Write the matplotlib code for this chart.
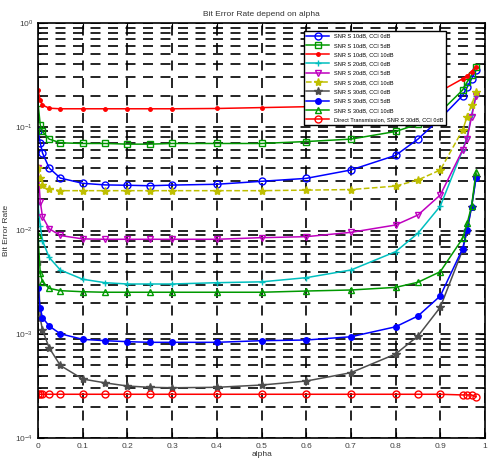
import matplotlib
matplotlib.use("Agg")
import matplotlib.pyplot as plt
from matplotlib.ticker import LogLocator, NullFormatter

plt.rcParams['font.family'] = ['Liberation Sans', 'DejaVu Sans']

# valeurs de alpha
alpha = [0.0, 0.005, 0.01, 0.025, 0.05, 0.1, 0.15, 0.2, 0.25, 0.3, 0.4,
         0.5, 0.6, 0.7, 0.8, 0.85, 0.9, 0.95, 0.96, 0.97, 0.98]

# taux d'erreur binaire
ber_10_0 = [9e-2, 7e-2, 5.6e-2, 4.0e-2, 3.2e-2, 2.85e-2, 2.75e-2, 2.73e-2, 2.7e-2, 2.74e-2, 2.79e-2,
            2.98e-2, 3.18e-2, 3.83e-2, 5.3e-2, 7.6e-2, 0.12, 0.2, 0.24, 0.29, 0.35]
ber_10_5 = [0.17, 0.104, 0.09, 0.076, 0.07, 0.069, 0.069, 0.068, 0.068, 0.069, 0.069,
            0.069, 0.072, 0.076, 0.09, 0.106, 0.139, 0.226, 0.27, 0.315, 0.38]
ber_10_10 = [0.226, 0.181, 0.162, 0.151, 0.149, 0.149, 0.149, 0.149, 0.149, 0.149, 0.15,
             0.153, 0.156, 0.162, 0.175, 0.19, 0.22, 0.29, 0.31, 0.34, 0.38]
ber_20_0 = [1.8e-2, 1.1e-2, 8e-3, 5.5e-3, 4.16e-3, 3.39e-3, 3.14e-3, 3.05e-3, 3.05e-3, 3.05e-3, 3.14e-3,
            3.2e-3, 3.51e-3, 4.16e-3, 6.25e-3, 9.4e-3, 1.72e-2, 5.97e-2, 8e-2, 0.13, 0.2]
ber_20_5 = [4e-2, 1.9e-2, 1.36e-2, 1.04e-2, 8.95e-3, 8.3e-3, 8.23e-3, 8.23e-3, 8.23e-3, 8.23e-3, 8.23e-3,
            8.53e-3, 8.72e-3, 9.6e-3, 1.13e-2, 1.41e-2, 2.2e-2, 5.97e-2, 7.7e-2, 0.125, 0.2]
ber_20_10 = [4e-2, 3.2e-2, 2.75e-2, 2.52e-2, 2.42e-2, 2.42e-2, 2.42e-2, 2.42e-2, 2.42e-2, 2.42e-2, 2.42e-2,
             2.42e-2, 2.45e-2, 2.48e-2, 2.68e-2, 3.07e-2, 3.83e-2, 9.3e-2, 0.125, 0.162, 0.216]
ber_30_0 = [5e-3, 1.43e-3, 1.1e-3, 7.4e-4, 5e-4, 3.7e-4, 3.4e-4, 3.17e-4, 3.08e-4, 3.05e-4, 3.08e-4,
            3.24e-4, 3.54e-4, 4.26e-4, 6.45e-4, 9.6e-4, 1.82e-3, 6.5e-3, 1e-2, 1.7e-2, 3.3e-2]
ber_30_5 = [2.8e-3, 1.78e-3, 1.45e-3, 1.2e-3, 1.01e-3, 8.93e-4, 8.67e-4, 8.48e-4, 8.36e-4, 8.36e-4, 8.36e-4,
            8.67e-4, 8.8e-4, 9.46e-4, 1.18e-3, 1.5e-3, 2.34e-3, 6.7e-3, 1.01e-2, 1.7e-2, 3.2e-2]
ber_30_10 = [9e-3, 3.87e-3, 3.2e-3, 2.77e-3, 2.63e-3, 2.57e-3, 2.54e-3, 2.54e-3, 2.54e-3, 2.54e-3, 2.54e-3,
             2.54e-3, 2.61e-3, 2.67e-3, 2.83e-3, 3.17e-3, 4.01e-3, 8.4e-3, 1.17e-2, 1.72e-2, 3.69e-2]
ber_direct = [2.64e-4, 2.64e-4, 2.64e-4, 2.64e-4, 2.64e-4, 2.64e-4, 2.64e-4, 2.64e-4, 2.64e-4, 2.64e-4, 2.64e-4,
              2.64e-4, 2.64e-4, 2.64e-4, 2.64e-4, 2.64e-4, 2.64e-4, 2.6e-4, 2.6e-4, 2.6e-4, 2.5e-4]

labels = ["SNR S 10dB, CCI 0dB", "SNR S 10dB, CCI 5dB", "SNR S 10dB, CCI 10dB",
          "SNR S 20dB, CCI 0dB", "SNR S 20dB, CCI 5dB", "SNR S 20dB, CCI 10dB",
          "SNR S 30dB, CCI 0dB", "SNR S 30dB, CCI 5dB", "SNR S 30dB, CCI 10dB",
          "Direct Transmission, SNR S 30dB, CCI 0dB"]

blue = (0, 0, 1)
green = (0, 0.6, 0)
red = (1, 0, 0)
cyan = (0, 0.75, 0.75)
magenta = (0.75, 0, 0.75)
yellow = (0.75, 0.75, 0)
gray = (0.3, 0.3, 0.3)

fig = plt.figure(figsize=(4.91, 4.59), dpi=100)
ax = fig.add_axes([38/491, 1-438/459, 447/491, 415/459])

lw = 1.1
ax.plot(alpha, ber_10_0, '-o', color=blue, mfc='none', ms=5, lw=lw, label=labels[0])
ax.plot(alpha, ber_10_5, '-s', color=green, mfc='none', ms=5, lw=lw, label=labels[1])
ax.plot(alpha, ber_10_10, marker='.', color=red, ms=5, lw=lw, linestyle='-', label=labels[2])
ax.plot(alpha, ber_20_0, '-+', color=cyan, ms=5, lw=lw, label=labels[3])
ax.plot(alpha, ber_20_5, '-v', color=magenta, mfc='none', ms=5, lw=lw, label=labels[4])
ax.plot(alpha, ber_20_10, '--*', color=yellow, ms=6, lw=lw, label=labels[5])
ax.plot(alpha, ber_30_0, '-*', color=gray, ms=6, lw=lw, label=labels[6])
ax.plot(alpha, ber_30_5, '-o', color=blue, ms=4, lw=lw, label=labels[7])
ax.plot(alpha, ber_30_10, '-^', color=green, mfc='none', ms=5, lw=lw, label=labels[8])
ax.plot(alpha, ber_direct, '-o', color=red, mfc='none', ms=5, lw=lw, label=labels[9])

ax.set_yscale('log')
ax.set_xlim(0, 1)
ax.set_ylim(1e-4, 1)
ax.set_xticks([0, 0.1, 0.2, 0.3, 0.4, 0.5, 0.6, 0.7, 0.8, 0.9, 1])
ax.set_xticklabels(["0", "0.1", "0.2", "0.3", "0.4", "0.5", "0.6", "0.7", "0.8", "0.9", "1"])
ax.yaxis.set_minor_locator(LogLocator(base=10, subs=range(2, 10)))
ax.yaxis.set_minor_formatter(NullFormatter())

ax.tick_params(which='both', direction='in', top=True, right=True, labelsize=6,
               labelcolor='0.25')
ax.tick_params(which='major', length=4)
ax.tick_params(which='minor', length=2)

# quadrillage en tirets facon matlab
ax.grid(True, which='major', axis='both', color='black', linestyle=(0, (6, 4.5)), lw=1.2)
ax.grid(True, which='minor', axis='y', color='black', linestyle=(0, (6, 4.5)), lw=1.2)
ax.set_axisbelow(True)
for s in ax.spines.values():
    s.set_linewidth(1.2)

ax.set_title("Bit Error Rate depend on alpha", fontsize=6, pad=5, color='0.2')
ax.set_xlabel("alpha", fontsize=6, labelpad=1, color='0.2')
ax.set_ylabel("Bit Error Rate", fontsize=6, labelpad=4, color='0.2')

leg = ax.legend(loc='upper right', bbox_to_anchor=(0.919, 0.988), fontsize=4.1,
                frameon=True, fancybox=False, edgecolor='black', framealpha=1,
                handlelength=4, labelspacing=0.75, borderpad=0.5)
leg.get_frame().set_linewidth(1.0)

fig.savefig("out.png", dpi=100)
